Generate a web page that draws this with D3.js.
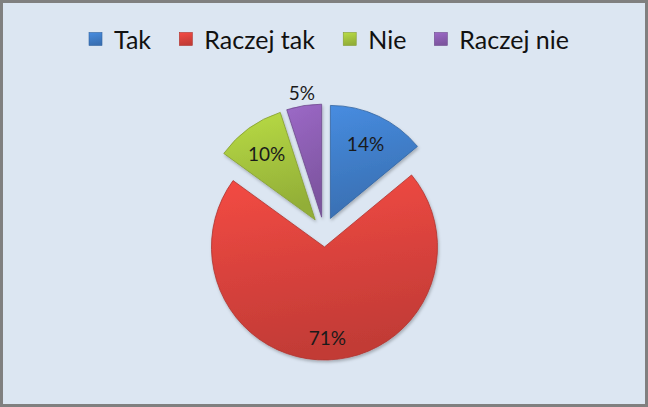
<!DOCTYPE html>
<html>
<head>
<meta charset="utf-8">
<script src="https://cdn.jsdelivr.net/npm/d3@7"></script>
<style>
  html, body { margin: 0; padding: 0; background: #fff; }
  svg { display: block; }
</style>
</head>
<body>
<svg id="chart" width="648" height="407"></svg>
<script>
// Data
const categories = ['Tak', 'Raczej tak', 'Nie', 'Raczej nie'];
const shares = [14, 71, 10, 5];
const colors = ['#3f7cc6', '#d8423c', '#a3c23d', '#8a5db0'];

const W = 648, H = 407;
const svg = d3.select('#chart');
const defs = svg.append('defs');

// Background and frame
svg.append('rect')
  .attr('x', 1.5).attr('y', 1.5)
  .attr('width', W - 3).attr('height', H - 3)
  .attr('fill', '#dce6f2')
  .attr('stroke', '#808080')
  .attr('stroke-width', 3);

// gradients to fake the Excel bevel
colors.forEach((c, i) => {
  const g = defs.append('linearGradient')
    .attr('id', 'grad' + i)
    .attr('x1', 0).attr('y1', 0).attr('x2', 0.2).attr('y2', 1);
  g.append('stop').attr('offset', '0%').attr('stop-color', d3.color(c).brighter(0.35));
  g.append('stop').attr('offset', '55%').attr('stop-color', c);
  g.append('stop').attr('offset', '100%').attr('stop-color', d3.color(c).darker(0.3));
});

const shadow = defs.append('filter').attr('id', 'shadow')
  .attr('x', '-20%').attr('y', '-20%').attr('width', '140%').attr('height', '140%');
shadow.append('feDropShadow')
  .attr('dx', 1).attr('dy', 2).attr('stdDeviation', 1.5)
  .attr('flood-color', '#000').attr('flood-opacity', 0.25);

// Pie
const cx = 324, cy = 232;
const radius = 113;
const explode = 15;

const pie = d3.pie().sort(null).value(d => d)(shares);
const arc = d3.arc().innerRadius(0).outerRadius(radius);

const slices = svg.append('g')
  .attr('transform', `translate(${cx},${cy})`)
  .selectAll('g.slice')
  .data(pie)
  .join('g')
  .attr('class', 'slice')
  .attr('transform', d => {
    const mid = (d.startAngle + d.endAngle) / 2;
    return `translate(${explode * Math.sin(mid)},${-explode * Math.cos(mid)})`;
  });

slices.append('path')
  .attr('d', arc)
  .attr('fill', (d, i) => `url(#grad${i})`)
  .attr('stroke', (d, i) => d3.color(colors[i]).darker(0.6))
  .attr('stroke-width', 0.8)
  .attr('filter', 'url(#shadow)');

// data labels
slices.append('text')
  .attr('transform', d => {
    const mid = (d.startAngle + d.endAngle) / 2;
    const share = d.value / d3.sum(shares);
    let r;
    if (share < 0.07) r = radius + 13;
    else if (share > 0.5) r = radius * 0.8;
    else r = radius * 0.73;
    return `translate(${r * Math.sin(mid)},${-r * Math.cos(mid)})`;
  })
  .attr('text-anchor', 'middle')
  .attr('dominant-baseline', 'central')
  .attr('font-family', 'Lato, "Open Sans", sans-serif')
  .attr('font-size', 19)
  .attr('fill', '#1a1a1a')
  .text(d => d3.format('.0%')(d.value / d3.sum(shares)));

// Legend
const legend = svg.append('g').attr('class', 'legend');
const items = legend.selectAll('g')
  .data(categories)
  .join('g');

items.append('rect')
  .attr('width', 13).attr('height', 13)
  .attr('y', -6.5)
  .attr('fill', (d, i) => `url(#grad${i})`)
  .attr('stroke', (d, i) => d3.color(colors[i]).darker(0.6))
  .attr('stroke-width', 0.6);

items.append('text')
  .attr('x', 25)
  .attr('dominant-baseline', 'central')
  .attr('font-family', 'Lato, "Open Sans", sans-serif')
  .attr('font-size', 25)
  .attr('fill', '#111')
  .text(d => d);

// lay legend items side by side and center them
let xpos = 0;
const gap = 28;
items.each(function() {
  const w = this.getBBox().width;
  d3.select(this).attr('transform', `translate(${xpos},0)`);
  xpos += w + gap;
});
const total = xpos - gap;
legend.attr('transform', `translate(${(W - total) / 2 + 5},39)`);
</script>
</body>
</html>
